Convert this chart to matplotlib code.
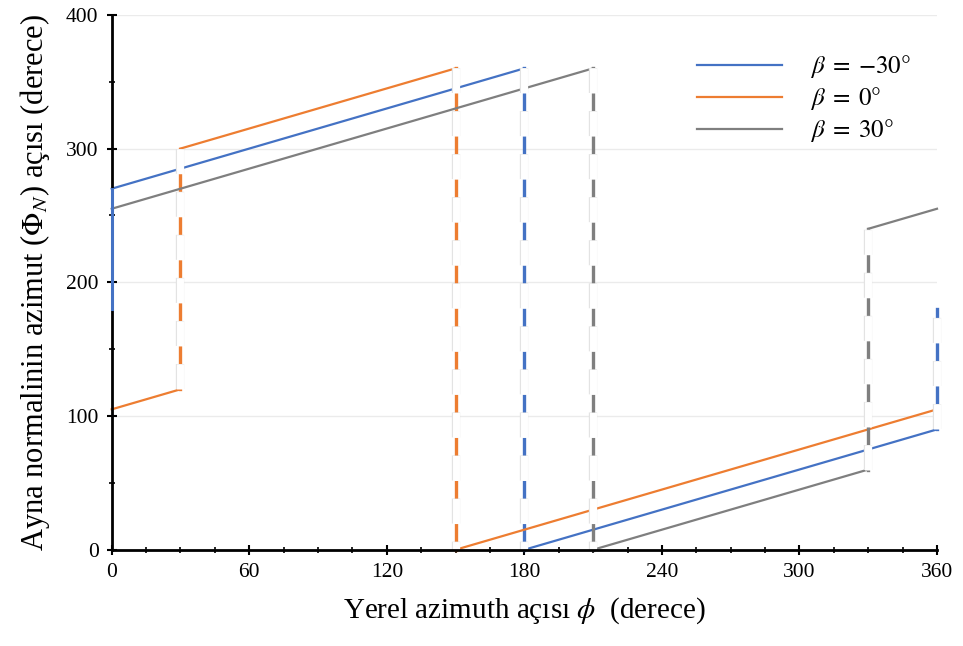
import numpy as np
import matplotlib
matplotlib.use('Agg')
import matplotlib.pyplot as plt
import matplotlib.patheffects as pe

plt.rcParams['font.family'] = ['Liberation Serif', 'DejaVu Serif']
plt.rcParams['mathtext.fontset'] = 'stix'

# break points of each curve (a repeated x value is a jump)
phi_m30 = [0, 0, 180, 180, 360, 360]
az_m30 = [180, 270, 360, 0, 90, 180]

phi_0 = [0, 30, 30, 150, 150, 360]
az_0 = [105, 120, 300, 360, 0, 105]

phi_p30 = [0, 210, 210, 330, 330, 360]
az_p30 = [255, 360, 0, 60, 240, 255]

labels = [r'$\beta\;=\;{-30}\degree$', r'$\beta\;=\;0\degree$', r'$\beta\;=\;30\degree$']
colors = ['#4472C4', '#ED7D31', '#7F7F7F']

x_ticks = [0, 60, 120, 180, 240, 300, 360]
y_ticks = [0, 100, 200, 300, 400]

fig = plt.figure(figsize=(9.63, 6.46), dpi=100)
ax = fig.add_axes([0.116, 0.149, 0.857, 0.828])

series = [(phi_m30, az_m30), (phi_0, az_0), (phi_p30, az_p30)]
for (xs, ys), lab, col in zip(series, labels, colors):
    ax.plot([], [], color=col, lw=1.6, label=lab)
    for i in range(len(xs) - 1):
        seg_x = [xs[i], xs[i + 1]]
        seg_y = [ys[i], ys[i + 1]]
        if xs[i] == xs[i + 1] and xs[i] != 0:
            # jump: coloured line with white dashes on top
            ax.plot(seg_x, seg_y, color=col, lw=2.4, zorder=3, clip_on=False)
            ax.plot(seg_x, seg_y, color='white', lw=5, zorder=4, clip_on=False,
                    dashes=(3.6, 2.6), dash_capstyle='butt',
                    path_effects=[pe.Stroke(linewidth=6, foreground='#e3e3e3'), pe.Normal()])
        elif xs[i] == xs[i + 1]:
            # jump sitting on the y axis
            ax.plot(seg_x, seg_y, color=col, lw=2.2, zorder=6, clip_on=False)
        else:
            ax.plot(seg_x, seg_y, color=col, lw=1.6, zorder=3, clip_on=False)

ax.set_xlim(0, 360)
ax.set_ylim(0, 400)
ax.set_xticks(x_ticks)
ax.set_yticks(y_ticks)
ax.set_xticks(np.arange(0, 361, 15), minor=True)
ax.set_yticks(np.arange(0, 401, 50), minor=True)
ax.tick_params(which='major', direction='inout', length=7, width=1.5, labelsize=15.5)
ax.tick_params(which='minor', direction='inout', length=5, width=1.2)
ax.tick_params(axis='x', pad=6)
ax.tick_params(axis='y', pad=6)

for s in ['top', 'right']:
    ax.spines[s].set_visible(False)
for s in ['left', 'bottom']:
    ax.spines[s].set_linewidth(2)
    ax.spines[s].set_zorder(5)

ax.grid(axis='y', color='#ebebeb', lw=1)
ax.set_axisbelow(True)

ax.set_xlabel(r'Yerel azimuth açısı $\phi$  (derece)', fontsize=21, labelpad=10)
ax.set_ylabel(r'Ayna normalinin azimut ($\Phi_N$) açısı (derece)', fontsize=22, labelpad=10)

leg = ax.legend(loc='upper right', bbox_to_anchor=(0.995, 0.97), frameon=False, fontsize=18,
                handlelength=3.4, labelspacing=0.2, handletextpad=1.1)

fig.savefig('out.png', dpi=100)
